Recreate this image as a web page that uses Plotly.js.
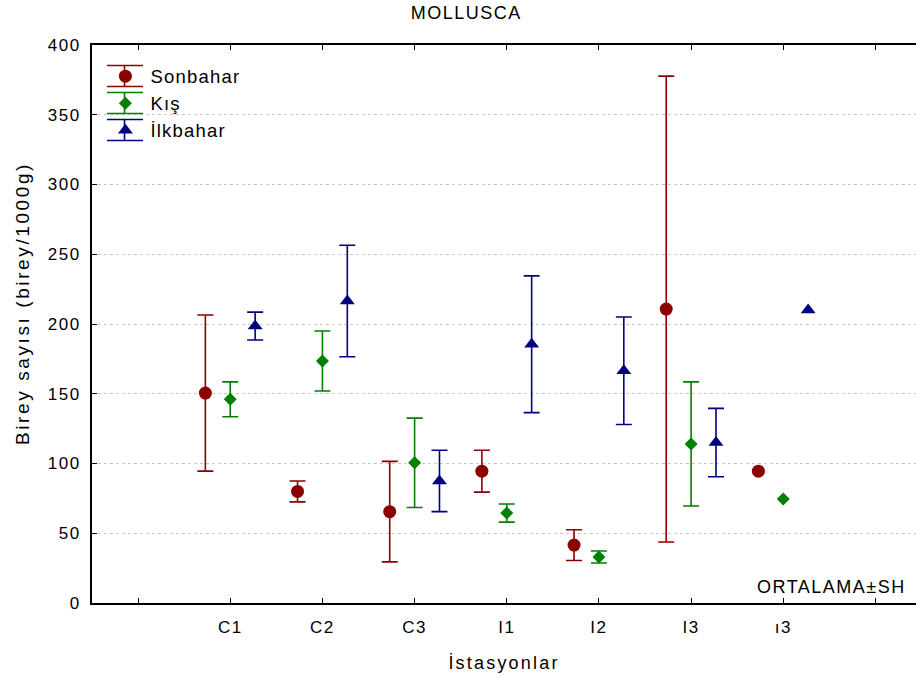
<!DOCTYPE html>
<html>
<head>
<meta charset="utf-8">
<script src="https://cdn.plot.ly/plotly-3.0.1.min.js"></script>
<style>
  html, body { margin: 0; padding: 0; background: #fff; }
  #chart { width: 916px; height: 683px; }
  /* wide letter spacing for all chart text (also applied while Plotly measures) */
  text { letter-spacing: 1.5px; }
  text.legendtext { letter-spacing: 1.2px; }
  text.xtitle { letter-spacing: 2.2px; }
</style>
</head>
<body>
<div id="chart"></div>
<script>
// Stations along the x axis (first and last slots are empty padding)
const tickLabels = ['', 'C1', 'C2', 'C3', 'I1', 'I2', 'I3', 'ı3', ''];
const stations = ['C1', 'C2', 'C3', 'I1', 'I2', 'I3', 'ı3'];

// Mean individual counts (birey/1000g) and standard errors per season
// (NaN = single sample, no error bar)
const sonbaharMean = [150.5, 80, 65.5, 94.5, 41.5, 210.7, 94.5];
const sonbaharSE   = [56, 7.5, 36, 15, 11, 167, NaN];
const kisMean      = [146, 173.5, 100.5, 64.5, 33, 114, 74.5];
const kisSE        = [12.5, 21.5, 32, 6.5, 4.3, 44.5, NaN];
const ilkbaharMean = [198.5, 216.5, 87.5, 185.5, 166.5, 115, 210];
const ilkbaharSE   = [10, 40, 22, 49, 38.5, 24.5, NaN];

const seasonNames  = ['Sonbahar', 'Kış', 'İlkbahar'];
const seasonColors = ['#8b0000', '#008000', '#000080'];
const seasonSymbols = ['circle', 'diamond', 'triangle-up'];
const seasonSizes  = [13, 10, 13];
const seasonShift  = [-0.27, 0, 0.27];

const means = [sonbaharMean, kisMean, ilkbaharMean];
const errs  = [sonbaharSE, kisSE, ilkbaharSE];

const traces = seasonNames.map((name, s) => ({
  type: 'scatter',
  mode: 'markers',
  name: name,
  x: stations.map((_, i) => i + 1 + seasonShift[s]),
  y: means[s],
  marker: { color: seasonColors[s], symbol: seasonSymbols[s], size: seasonSizes[s] },
  error_y: {
    type: 'data',
    array: errs[s],
    visible: true,
    color: seasonColors[s],
    thickness: 1.6,
    width: 8
  },
  hoverinfo: 'x+y'
}));

// Plot frame in pixels, used to place the legend's error-bar glyphs
const W = 916, H = 683;
const M = { l: 92, r: 0, t: 45, b: 80 };
const plotW = W - M.l - M.r, plotH = H - M.t - M.b;
const px = v => (v - M.l) / plotW;          // pixel x -> paper x
const py = v => (H - M.b - v) / plotH;      // pixel y -> paper y

// Legend glyph geometry: row centres, cap half-height, cap extent, stem x
const legendRow0 = 76, legendRowStep = 27, capHalf = 10.5;
const capX0 = 107, capX1 = 143, stemX = 124.5;

const legendGlyphs = [];
seasonColors.forEach((c, k) => {
  const yc = legendRow0 + k * legendRowStep;
  const line = { color: c, width: 1.6 };
  legendGlyphs.push(
    { type: 'line', xref: 'paper', yref: 'paper', x0: px(capX0), x1: px(capX1), y0: py(yc - capHalf), y1: py(yc - capHalf), line },
    { type: 'line', xref: 'paper', yref: 'paper', x0: px(capX0), x1: px(capX1), y0: py(yc + capHalf), y1: py(yc + capHalf), line },
    { type: 'line', xref: 'paper', yref: 'paper', x0: px(stemX), x1: px(stemX), y0: py(yc - capHalf), y1: py(yc + capHalf), line }
  );
});

const layout = {
  width: W,
  height: H,
  margin: M,
  paper_bgcolor: '#ffffff',
  plot_bgcolor: '#ffffff',
  font: { family: 'Liberation Sans, Arial, sans-serif', color: '#000', size: 17 },
  title: {
    text: 'MOLLUSCA',
    font: { size: 18, color: '#000' },
    x: 0.509, xanchor: 'center',
    y: 0.981, yanchor: 'middle'
  },
  showlegend: true,
  legend: {
    x: 0.0102, y: 0.9774, xanchor: 'left', yanchor: 'top',
    bgcolor: 'rgba(255,255,255,0)',
    font: { size: 18.5, color: '#000' },
    itemwidth: 40,
    tracegroupgap: 0
  },
  shapes: legendGlyphs,
  xaxis: {
    range: [-0.5, 8.44],
    tickmode: 'array',
    tickvals: tickLabels.map((_, i) => i),
    ticktext: tickLabels,
    ticks: 'inside',
    ticklen: 5,
    tickcolor: '#000',
    tickwidth: 1,
    showline: true,
    linecolor: '#000',
    linewidth: 2,
    mirror: 'ticks',
    showgrid: false,
    zeroline: false,
    tickfont: { size: 17 },
    ticklabelstandoff: 8,
    title: { text: 'İstasyonlar', font: { size: 18 }, standoff: 20 }
  },
  yaxis: {
    range: [0, 400],
    tickvals: [0, 50, 100, 150, 200, 250, 300, 350, 400],
    ticks: 'inside',
    ticklen: 5,
    tickcolor: '#000',
    showline: true,
    linecolor: '#000',
    linewidth: 2,
    mirror: false,
    showgrid: true,
    gridcolor: '#c8c8c8',
    griddash: 'dot',
    gridwidth: 1,
    zeroline: false,
    tickfont: { size: 17 },
    ticklabelstandoff: 6
  },
  annotations: [
    {
      xref: 'paper', yref: 'paper',
      x: px(908), y: py(587), xanchor: 'right', yanchor: 'middle',
      text: 'ORTALAMA±SH',
      showarrow: false,
      font: { size: 18, color: '#000' }
    },
    {
      xref: 'paper', yref: 'paper',
      x: px(22), y: py(304), xanchor: 'center', yanchor: 'middle',
      textangle: -90,
      text: '<span style="letter-spacing:2.6px">Birey sayısı (birey/1000g)</span>',
      showarrow: false,
      font: { size: 19, color: '#000' }
    }
  ]
};

Plotly.newPlot('chart', traces, layout, { displayModeBar: false, staticPlot: true });
</script>
</body>
</html>
